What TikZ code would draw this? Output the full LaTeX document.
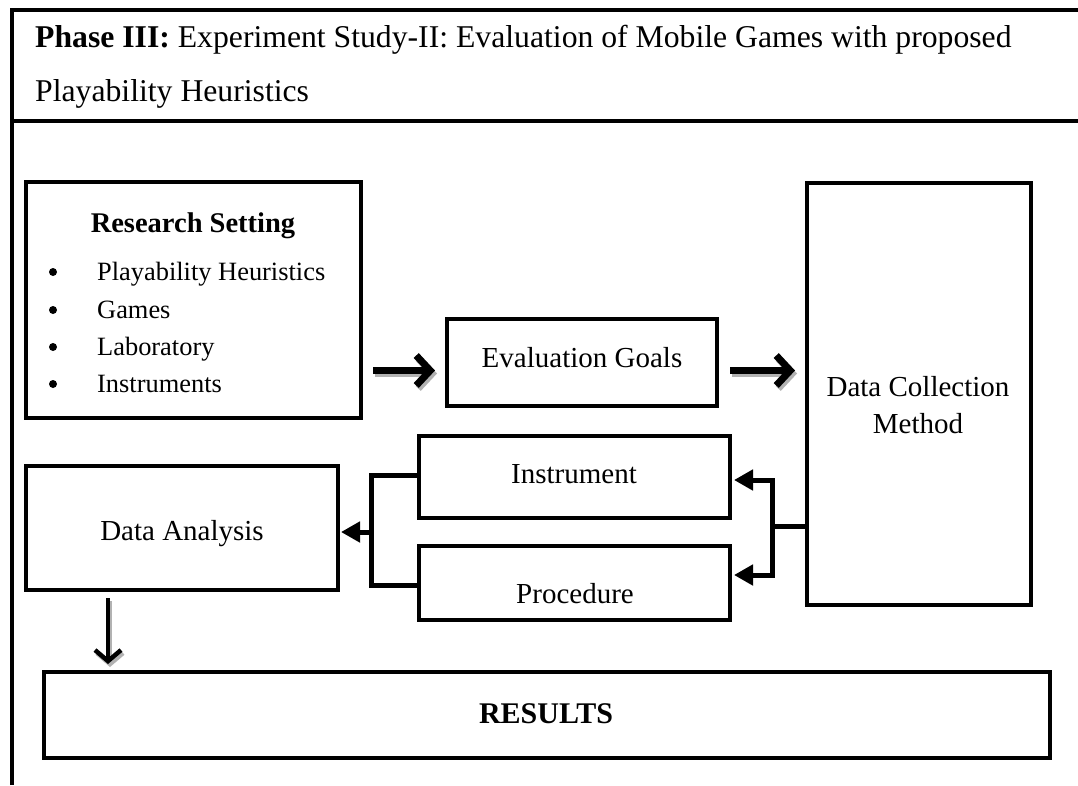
\documentclass[tikz,border=0pt]{standalone}
\usepackage{fontspec}
\setmainfont{Liberation Serif}
\usetikzlibrary{arrows.meta,calc}
\begin{document}
\begin{tikzpicture}[x=1pt,y=-1pt,
  frameline/.style={line width=4pt},
  box/.style={draw, line width=4pt, inner sep=0pt, outer sep=0pt},
  lbl/.style={anchor=base, inner sep=0pt, font=\fontsize{29}{33}\selectfont},
  itm/.style={anchor=base west, inner sep=0pt, font=\fontsize{26.4}{30}\selectfont},
  hdr/.style={anchor=base west, inner sep=0pt, font=\fontsize{31.7}{36}\selectfont},
  dot/.style={circle, fill, inner sep=0pt, minimum size=8pt},
  conn/.style={line width=5pt},
  tri/.style={-{Triangle[length=19pt,width=20pt]}},
  fatarrow/.style={line width=7pt, -{Straight Barb[length=14pt,width=30pt]}},
  downarrow/.style={line width=4.5pt, -{Straight Barb[length=11pt,width=26pt]}},
  shade/.style={draw=black!30, transform canvas={xshift=2pt,yshift=-3pt}}
]
\useasboundingbox[fill=white] (0,0) rectangle (1078,785);

% outer frame and header divider
\draw[frameline] (12,785) -- (12,10) -- (1078,10);
\draw[frameline] (12,121) -- (1078,121);

% header
\node[hdr] (hdr1) at (35,47) {\textbf{Phase III:} Experiment Study-II: Evaluation of Mobile Games with proposed};
\node[hdr] (hdr2) at (35,101) {Playability Heuristics};

% boxes
\node[box, minimum width=335pt, minimum height=236pt] (rs)   at (193.5,300) {};
\node[box, minimum width=270pt, minimum height=87pt]  (eg)   at (582,362.5) {};
\node[box, minimum width=224pt, minimum height=422pt] (dcm)  at (919,394) {};
\node[box, minimum width=311pt, minimum height=82pt]  (inst) at (574.5,477) {};
\node[box, minimum width=311pt, minimum height=74pt]  (proc) at (574.5,583) {};
\node[box, minimum width=312pt, minimum height=124pt] (da)   at (182,528) {};
\node[box, minimum width=1006pt, minimum height=86pt] (res)  at (547,715) {};

% research setting contents
\node[lbl, font=\fontsize{28.5}{32}\selectfont\bfseries] (rstitle) at (193,232) {Research Setting};
\foreach \t/\y/\n in {Playability Heuristics/280/a, Games/318/b, Laboratory/355/c, Instruments/392/d}{
  \node[dot] (bul\n) at (53,\y-8) {};
  \node[itm] (item\n) at (97,\y) {\t};
}

% box labels
\node[lbl] (egtxt)   at (582,367) {Evaluation Goals};
\node[lbl] (dcmtxt1) at (918,396) {Data Collection};
\node[lbl] (dcmtxt2) at (918,433) {Method};
\node[lbl] (insttxt) at (574,483) {Instrument};
\node[lbl] (proctxt) at (575,603) {Procedure};
\node[lbl] (datxt)   at (182,540) {Data Analysis};
\node[lbl, font=\fontsize{30}{34}\selectfont\bfseries] (restxt) at (546,723) {RESULTS};

% flow along the top row, with a soft grey shadow under each arrow
\draw[fatarrow, shade] ($(rs.east |- eg.west)+(12,8)$) -- ($(eg.west)+(-12,8)$);
\draw[fatarrow, shade] ($(eg.east)+(13,8)$) -- ($(dcm.west |- eg.east)+(-12,8)$);
\draw[fatarrow] ($(rs.east |- eg.west)+(12,8)$) -- ($(eg.west)+(-12,8)$);
\draw[fatarrow] ($(eg.east)+(13,8)$) -- ($(dcm.west |- eg.east)+(-12,8)$);

% data collection splits into instrument and procedure
\coordinate (rj) at ($(dcm.west)+(-35,132)$);
\draw[conn] ($(dcm.west)+(0,132)$) -- (rj);
\draw[conn, tri] (rj) |- ($(inst.east)+(4,3)$);
\draw[conn, tri] (rj) |- ($(proc.east)+(4,-8)$);

% instrument and procedure merge into data analysis
\coordinate (lj) at ($(inst.west)+(-48,55)$);
\draw[conn] ($(inst.west)+(0,-2)$) -| (lj) |- ($(proc.west)+(0,2)$);
\draw[conn, tri] (lj) -- ($(da.east |- lj)+(3,0)$);

% data analysis leads to results
\draw[downarrow, shade] ($(da.south west)+(82,8)$) -- ($(res.north west)+(64,-8)$);
\draw[downarrow] ($(da.south west)+(82,8)$) -- ($(res.north west)+(64,-8)$);
\end{tikzpicture}
\end{document}
